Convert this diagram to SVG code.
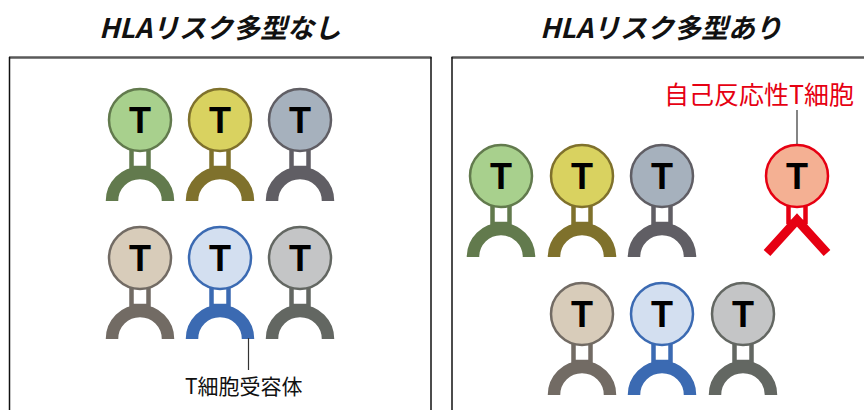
<svg xmlns="http://www.w3.org/2000/svg" width="864" height="410" viewBox="0 0 864 410">
  <defs>
    <style>
      .title { font-family: "Noto Sans CJK JP", "Liberation Sans", sans-serif; font-size: 27px; font-weight: bold; font-style: italic; fill: #111; text-anchor: middle; }
      .tl { font-family: "Liberation Sans", "DejaVu Sans", sans-serif; font-size: 36px; font-weight: bold; fill: #000; text-anchor: middle; }
      .label { font-family: "Noto Sans CJK JP", "Liberation Sans", sans-serif; font-size: 21px; fill: #111; }
      .redlabel { font-family: "Noto Sans CJK JP", "Liberation Sans", sans-serif; font-size: 25px; fill: #e60012; text-anchor: middle; }
      .frame-top { stroke: #5a5a5a; stroke-width: 2.5; }
      .frame-side { stroke: #111; stroke-width: 1.5; }
      .lead { stroke: #333; stroke-width: 1.2; }
      .stem { fill: #fff; stroke: var(--line); stroke-width: 4.5; }
      .arc { fill: none; stroke: var(--line); stroke-width: 12.5; }
      .body { fill: var(--fill); stroke: var(--line); stroke-width: 2.5; }
      .vee { fill: none; stroke: var(--line); stroke-width: 9; stroke-linejoin: miter; }
      .green { --fill: #a8d08d; --line: #627a4d; }
      .olive { --fill: #d9d260; --line: #7f712c; }
      .slate { --fill: #a6b1bd; --line: #605e64; }
      .beige { --fill: #d8ccba; --line: #726b64; }
      .blue  { --fill: #d3dff0; --line: #3b6ab2; }
      .gray  { --fill: #c4c5c6; --line: #636762; }
      .red   { --fill: #f4b093; --line: #e60012; }
    </style>
    <!-- T cell with a curved receptor, centred on the circle -->
    <g id="tcell">
      <rect class="stem" x="-8.5" y="28" width="17" height="20"/>
      <path class="arc" d="M -28 81 A 28 28 0 0 1 28 81"/>
      <circle class="body" cx="0" cy="0" r="31"/>
      <text class="tl" x="0" y="13">T</text>
    </g>
    <!-- T cell with the V-shaped receptor -->
    <g id="tcell-v">
      <rect class="stem" x="-8.5" y="28" width="17" height="18"/>
      <polyline class="vee" points="-30,77 0,44 30,77"/>
      <circle class="body" cx="0" cy="0" r="31"/>
      <text class="tl" x="0" y="13">T</text>
    </g>
  </defs>

  <rect width="864" height="410" fill="#fff"/>

  <!-- panel titles -->
  <text class="title" x="220" y="38">HLAリスク多型なし</text>
  <text class="title" x="661" y="38">HLAリスク多型あり</text>

  <!-- panel frames -->
  <g id="frames">
    <line class="frame-top" x1="9" y1="57.5" x2="431.5" y2="57.5"/>
    <line class="frame-side" x1="9.5" y1="57" x2="9.5" y2="412"/>
    <line class="frame-side" x1="431" y1="57" x2="431" y2="412"/>
    <line class="frame-top" x1="451.5" y1="57.5" x2="866" y2="57.5"/>
    <line class="frame-side" x1="452" y1="57" x2="452" y2="412"/>
  </g>

  <!-- left panel -->
  <g id="l-green" class="green"><use href="#tcell" x="140" y="120"/></g>
  <g id="l-olive" class="olive"><use href="#tcell" x="220" y="120"/></g>
  <g id="l-slate" class="slate"><use href="#tcell" x="300" y="120"/></g>
  <g id="l-beige" class="beige"><use href="#tcell" x="140" y="258"/></g>
  <g id="l-blue" class="blue"><use href="#tcell" x="220" y="258"/></g>
  <g id="l-gray" class="gray"><use href="#tcell" x="300" y="258"/></g>

  <!-- right panel -->
  <g id="r-green" class="green"><use href="#tcell" x="501" y="176"/></g>
  <g id="r-olive" class="olive"><use href="#tcell" x="582" y="176"/></g>
  <g id="r-slate" class="slate"><use href="#tcell" x="662" y="176"/></g>
  <g id="r-autoreactive" class="red"><use href="#tcell-v" x="797" y="176"/></g>
  <g id="r-beige" class="beige"><use href="#tcell" x="582" y="314"/></g>
  <g id="r-blue" class="blue"><use href="#tcell" x="662" y="314"/></g>
  <g id="r-gray" class="gray"><use href="#tcell" x="743" y="314"/></g>

  <!-- leader lines -->
  <g id="connectors">
    <line class="lead" x1="248.5" y1="338" x2="248.5" y2="370"/>
    <line class="lead" x1="797" y1="110" x2="797" y2="144"/>
  </g>

  <!-- labels -->
  <text class="label" x="185" y="394">T細胞受容体</text>
  <text class="redlabel" x="759" y="104">自己反応性T細胞</text>
</svg>
